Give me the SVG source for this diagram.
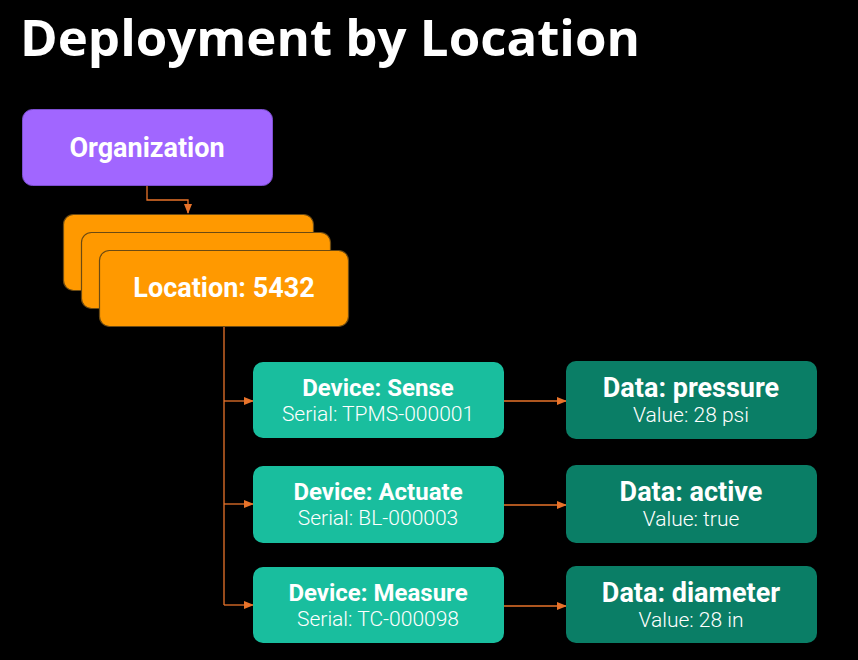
<svg xmlns="http://www.w3.org/2000/svg" width="858" height="660" viewBox="0 0 858 660">
  <style>
    .title { font-family: "Open Sans", "Liberation Sans", sans-serif; font-weight: 700; font-size: 50px; fill: #ffffff; }
    .lbl { font-family: Roboto, "Liberation Sans", sans-serif; fill: #ffffff; text-anchor: middle; }
    .big { font-weight: 700; font-size: 27px; }
    .dev { font-weight: 700; font-size: 24px; }
    .sub { font-weight: 300; font-size: 21px; }
    .org { fill: #A166FF; stroke: #7D4FD0; stroke-width: 1; }
    .loc { fill: #FF9900; stroke: #6B4A12; stroke-width: 1.2; }
    .device { fill: #19BE9E; }
    .data { fill: #0A7E66; }
    .conn { fill: none; stroke: #E8732A; stroke-width: 1.3; }
  </style>
  <defs>
    <marker id="arrow" markerWidth="10" markerHeight="8" refX="9" refY="4" orient="auto" markerUnits="userSpaceOnUse">
      <path d="M0,0 L10,4 L0,8 Z" fill="#E8732A"/>
    </marker>
  </defs>
  <rect width="858" height="660" fill="#000000"/>

  <text class="title" x="20" y="56" textLength="620" lengthAdjust="spacingAndGlyphs">Deployment by Location</text>

  <g id="connectors">
    <path class="conn" d="M147,186 V200 H188 V213" marker-end="url(#arrow)"/>
    <path class="conn" d="M224,326 V605"/>
    <path class="conn" d="M224,401 H253" marker-end="url(#arrow)"/>
    <path class="conn" d="M224,504 H253" marker-end="url(#arrow)"/>
    <path class="conn" d="M224,605 H253" marker-end="url(#arrow)"/>
    <path class="conn" d="M503,401 H566" marker-end="url(#arrow)"/>
    <path class="conn" d="M503,505 H566" marker-end="url(#arrow)"/>
    <path class="conn" d="M503,606 H566" marker-end="url(#arrow)"/>
  </g>

  <g id="organization">
    <rect class="org" x="22.5" y="109.5" width="250" height="76" rx="10"/>
    <text class="lbl big" x="147" y="157">Organization</text>
  </g>

  <g id="location">
    <rect class="loc" x="63.5" y="214.5" width="250" height="76" rx="10"/>
    <rect class="loc" x="81.5" y="232.5" width="249" height="76" rx="10"/>
    <rect class="loc" x="99.5" y="250.5" width="249" height="76" rx="10"/>
    <text class="lbl big" x="224" y="297">Location: 5432</text>
  </g>

  <g id="device-sense">
    <rect class="device" x="253" y="362" width="251" height="76" rx="10"/>
    <text class="lbl dev" x="378" y="396">Device: Sense</text>
    <text class="lbl sub" x="378" y="421">Serial: TPMS-000001</text>
  </g>

  <g id="device-actuate">
    <rect class="device" x="253" y="466" width="251" height="77" rx="10"/>
    <text class="lbl dev" x="378" y="500">Device: Actuate</text>
    <text class="lbl sub" x="378" y="525">Serial: BL-000003</text>
  </g>

  <g id="device-measure">
    <rect class="device" x="253" y="567" width="251" height="76" rx="10"/>
    <text class="lbl dev" x="378" y="601">Device: Measure</text>
    <text class="lbl sub" x="378" y="626">Serial: TC-000098</text>
  </g>

  <g id="data-pressure">
    <rect class="data" x="566" y="361" width="251" height="78" rx="10"/>
    <text class="lbl big" x="691" y="397">Data: pressure</text>
    <text class="lbl sub" x="691" y="422">Value: 28 psi</text>
  </g>

  <g id="data-active">
    <rect class="data" x="566" y="465" width="251" height="78" rx="10"/>
    <text class="lbl big" x="691" y="501">Data: active</text>
    <text class="lbl sub" x="691" y="526">Value: true</text>
  </g>

  <g id="data-diameter">
    <rect class="data" x="566" y="566" width="251" height="77" rx="10"/>
    <text class="lbl big" x="691" y="602">Data: diameter</text>
    <text class="lbl sub" x="691" y="627">Value: 28 in</text>
  </g>
</svg>
